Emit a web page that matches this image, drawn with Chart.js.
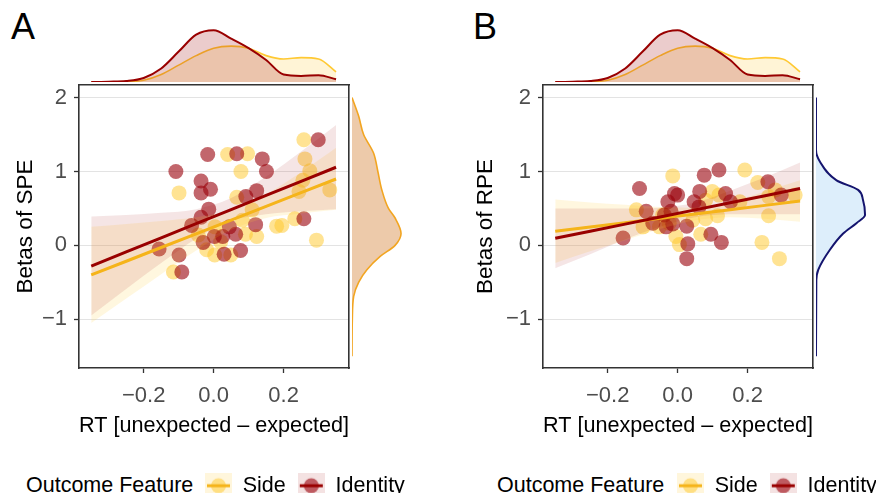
<!DOCTYPE html>
<html>
<head>
<meta charset="utf-8">
<script src="https://cdn.jsdelivr.net/npm/chart.js@4.4.0/dist/chart.umd.min.js"></script>
<style>
  body { margin: 0; background: #fff; width: 876px; height: 497px; overflow: hidden; position: relative;
         font-family: "Liberation Sans", Arial, sans-serif; }
  canvas { position: absolute; }
  .tag { position: absolute; font-size: 36px; color: #000; line-height: 36px; }
  .legtitle { position: absolute; font-size: 21.5px; color: #000; line-height: 22px; }
</style>
</head>
<body>
<div class="tag" style="left:11px;top:9px">A</div>
<div class="tag" style="left:473px;top:9px">B</div>
<div class="legtitle" style="left:26px;top:474px">Outcome Feature</div>
<div class="legtitle" style="left:497px;top:474px">Outcome Feature</div>

<canvas id="topA" width="270" height="82" style="left:79px;top:0px"></canvas>
<canvas id="mainA" width="360" height="439" style="left:0px;top:0px"></canvas>
<canvas id="rightA" width="58" height="439" style="left:352px;top:0px"></canvas>
<canvas id="legA" width="240" height="60" style="left:193px;top:463px"></canvas>

<canvas id="topB" width="270" height="82" style="left:543px;top:0px"></canvas>
<canvas id="mainB" width="360" height="439" style="left:464px;top:0px"></canvas>
<canvas id="rightB" width="58" height="439" style="left:816px;top:0px"></canvas>
<canvas id="legB" width="240" height="60" style="left:665px;top:463px"></canvas>

<script>
// axis ticks
const rtTicks = [-0.2, 0, 0.2];
const betaTicks = [-1, 0, 1, 2];

// panel A: RT vs SPE betas
const sideRtA = [0.258, 0.04, 0.097, 0.078, -0.099, 0.261, 0.275, 0.332, 0.244, 0.255, 0.066, 0.11, 0.082,
  0.232, 0.18, 0.195, 0.294, 0.123, 0.091, 0.004, -0.02, 0.003, 0.049, -0.044, -0.115, 0.02];
const sideSpe = [1.43, 1.23, 1.24, 1.0, 0.71, 1.17, 1.01, 0.75, 0.73, 0.88, 0.65, 0.48, 0.34,
  0.36, 0.26, 0.27, 0.07, 0.12, 0.15, 0.25, -0.06, -0.13, -0.13, 0.14, -0.36, 0.05];
const identityRtA = [0.299, -0.017, 0.066, 0.139, 0.151, -0.108, -0.036, -0.036, -0.009, 0.123, 0.092, -0.014, -0.036,
  -0.063, 0.12, 0.258, 0.045, 0.063, 0.026, -0.03, 0.002, 0.077, 0.03, -0.156, -0.099, -0.091];
const identitySpe = [1.43, 1.23, 1.24, 1.17, 1.0, 1.0, 0.87, 0.71, 0.76, 0.74, 0.66, 0.49, 0.38,
  0.27, 0.28, 0.36, 0.25, 0.15, 0.12, 0.04, 0.12, -0.07, -0.12, -0.05, -0.13, -0.36];

// panel B: RT vs RPE betas
const sideRtB = [-0.014, 0.192, 0.229, 0.279, 0.26, 0.336, 0.099, 0.118, 0.08, 0.178, 0.114, 0.08,
  0.043, 0.066, -0.005, 0.005, 0.241, 0.291, -0.118, -0.099, -0.052, -0.024, -0.043, 0.26];
const sideRpe = [0.94, 1.02, 0.85, 0.75, 0.4, 0.68, 0.73, 0.68, 0.61, 0.59, 0.4, 0.36,
  0.34, 0.15, 0.12, 0.01, 0.04, -0.18, 0.48, 0.25, 0.25, 0.3, 0.41, 0.66];
const identityRtB = [-0.109, -0.09, -0.156, -0.071, -0.033, -0.028, -0.009, 0.0, -0.038, -0.019, -0.014, 0.026,
  0.029, 0.026, 0.047, 0.063, 0.076, 0.118, 0.061, 0.137, 0.095, 0.125, 0.258, 0.296, 0.151];
const identityRpe = [0.77, 0.46, 0.1, 0.3, 0.25, 0.59, 0.7, 0.68, 0.41, 0.46, 0.29, 0.26,
  0.02, -0.18, 0.59, 0.73, 0.95, 1.02, 0.52, 0.7, 0.15, 0.04, 0.86, 0.68, 0.59];

// regression fits and 95% bands
const fitX = [-0.35, -0.25, -0.15, -0.05, 0.05, 0.15, 0.25, 0.35];
const sideSpeFit = [-0.40, -0.215, -0.029, 0.156, 0.342, 0.527, 0.713, 0.898];
const sideSpeHi = [0.25, 0.29, 0.33, 0.38, 0.47, 0.69, 0.99, 1.32];
const sideSpeLo = [-1.05, -0.72, -0.39, -0.07, 0.21, 0.37, 0.43, 0.48];
const identitySpeFit = [-0.28, -0.089, 0.102, 0.293, 0.484, 0.675, 0.866, 1.057];
const identitySpeHi = [0.39, 0.41, 0.44, 0.49, 0.64, 0.93, 1.27, 1.63];
const identitySpeLo = [-0.95, -0.59, -0.24, 0.09, 0.33, 0.42, 0.46, 0.49];
const sideRpeFit = [0.19, 0.249, 0.307, 0.366, 0.424, 0.483, 0.541, 0.60];
const sideRpeHi = [0.62, 0.58, 0.55, 0.52, 0.51, 0.59, 0.73, 0.88];
const sideRpeLo = [-0.24, -0.08, 0.07, 0.22, 0.34, 0.38, 0.36, 0.32];
const identityRpeFit = [0.095, 0.191, 0.287, 0.384, 0.48, 0.576, 0.672, 0.769];
const identityRpeHi = [0.50, 0.50, 0.50, 0.51, 0.58, 0.74, 0.92, 1.12];
const identityRpeLo = [-0.31, -0.12, 0.08, 0.25, 0.38, 0.42, 0.42, 0.42];

// marginal densities
const densRt = [-0.35, -0.3, -0.25, -0.2, -0.15, -0.1, -0.05, 0, 0.05, 0.1, 0.15, 0.2, 0.25, 0.3, 0.35];
const densRtSide = [0, 0, 0.02, 0.1, 0.44, 1.0, 1.56, 2.0, 2.12, 2.0, 1.56, 1.36, 1.44, 1.36, 0.6];
const densRtIdentity = [0, 0.02, 0.06, 0.24, 0.8, 1.8, 2.8, 3.06, 2.56, 2.0, 1.3, 0.44, 0.36, 0.4, 0.16];
const densSpeY = [2.0, 1.75, 1.5, 1.25, 1.0, 0.75, 0.5, 0.37, 0.16, 0.0, -0.15, -0.33, -0.5, -0.69, -1.0, -1.5];
const densSpe = [0, 0.4, 0.7, 1.3, 1.56, 1.8, 2.2, 2.6, 2.96, 2.6, 1.7, 0.9, 0.4, 0.1, 0.02, 0];
const densRpeY = [2.0, 1.29, 1.13, 0.88, 0.75, 0.61, 0.41, 0.3, 0.16, -0.06, -0.33, -0.47, -1.5];
const densRpe = [0, 0, 0.24, 1.24, 2.54, 2.84, 2.96, 2.44, 1.64, 0.84, 0.14, 0.02, 0];

const RED = '#990000', YEL = '#F5B41A';
const RED_PT = 'rgba(153,0,10,0.6)', YEL_PT = 'rgba(255,200,40,0.5)';
const X_MIN = -0.385, X_MAX = 0.387, Y_MIN = -1.66, Y_MAX = 2.17;
const FONT = '"Liberation Sans", Arial, sans-serif';

const pts = (xs, ys) => xs.map((x, i) => ({ x: x, y: ys[i] }));
const minus = s => s.replace('-', '\u2212');

function mainChart(id, title, titlePad, sx, sy, ix, iy, sFit, sLo, sHi, iFit, iLo, iHi) {
  const lineDs = (label, ys, color) => ({
    type: 'line', label, data: pts(fitX, ys), borderColor: color, borderWidth: 3,
    pointRadius: 0, fill: false, order: 0
  });
  const bandDs = (ys, color, fill) => ({
    type: 'line', data: pts(fitX, ys), borderWidth: 0, pointRadius: 0,
    backgroundColor: color, fill: fill, cubicInterpolationMode: 'monotone', order: 1
  });
  new Chart(document.getElementById(id), {
    type: 'scatter',
    data: {
      datasets: [
        lineDs('Identity', iFit, RED),
        lineDs('Side', sFit, YEL),
        bandDs(iHi, 'rgba(153,0,0,0.1)', '+1'),
        bandDs(iLo, 'transparent', false),
        bandDs(sHi, 'rgba(255,200,40,0.15)', '+1'),
        bandDs(sLo, 'transparent', false),
        { label: 'Identity', data: pts(ix, iy), backgroundColor: RED_PT, borderWidth: 0, pointRadius: 7.5, order: 2 },
        { label: 'Side', data: pts(sx, sy), backgroundColor: YEL_PT, borderWidth: 0, pointRadius: 7.5, order: 3 }
      ]
    },
    options: {
      responsive: false, animation: false, events: [],
      layout: { padding: { top: 85, right: 11, left: 0, bottom: 0 } },
      plugins: { legend: { display: false }, tooltip: { enabled: false } },
      scales: {
        x: {
          type: 'linear', position: 'bottom', min: X_MIN, max: X_MAX,
          afterBuildTicks: s => { s.ticks = rtTicks.map(v => ({ value: v })); },
          afterFit: s => { s.height = 71; },
          ticks: { font: { family: FONT, size: 22 }, color: '#4D4D4D', padding: 10,
                   callback: v => minus(v.toFixed(1)) },
          grid: { drawOnChartArea: false, tickLength: 5, tickColor: '#333', tickWidth: 1.3 },
          border: { color: '#333', width: 1.6 },
          title: { display: true, text: 'RT [unexpected \u2013 expected]', color: '#000',
                   font: { family: FONT, size: 22 }, padding: { top: 0, bottom: 0 } }
        },
        y: {
          type: 'linear', position: 'left', min: Y_MIN, max: Y_MAX,
          afterBuildTicks: s => { s.ticks = betaTicks.map(v => ({ value: v })); },
          afterFit: s => { s.width = 79; },
          ticks: { font: { family: FONT, size: 22 }, color: '#4D4D4D', padding: 7,
                   callback: v => minus(String(v)) },
          grid: { color: '#DCDCDC', lineWidth: 0.8, tickLength: 5, tickColor: '#333', tickWidth: 1.3 },
          border: { color: '#333', width: 1.6 },
          title: { display: true, text: title, color: '#000',
                   font: { family: FONT, size: 22.5 }, padding: { top: titlePad, bottom: 0 } }
        },
        x2: {
          type: 'linear', axis: 'x', position: 'top', min: X_MIN, max: X_MAX, display: true,
          afterFit: s => { s.height = 0; },
          ticks: { display: false }, grid: { display: false },
          border: { color: '#333', width: 1.6 }
        },
        y2: {
          type: 'linear', axis: 'y', position: 'right', min: Y_MIN, max: Y_MAX, display: true,
          afterFit: s => { s.width = 0; },
          ticks: { display: false }, grid: { display: false },
          border: { color: '#333', width: 1.6 }
        }
      }
    }
  });
}

function topDensity(id) {
  new Chart(document.getElementById(id), {
    type: 'line',
    data: {
      datasets: [
        { data: pts(densRt, densRtIdentity), borderColor: RED, borderWidth: 2,
          backgroundColor: 'rgba(153,0,0,0.2)', fill: 'origin', pointRadius: 0,
          cubicInterpolationMode: 'monotone', clip: false },
        { data: pts(densRt, densRtSide), borderColor: '#FFC933', borderWidth: 1.6,
          backgroundColor: 'rgba(255,200,50,0.2)', fill: 'origin', pointRadius: 0,
          cubicInterpolationMode: 'monotone', clip: false }
      ]
    },
    options: {
      responsive: false, animation: false, events: [],
      layout: { padding: 0 },
      plugins: { legend: { display: false }, tooltip: { enabled: false } },
      scales: {
        x: { type: 'linear', display: false, min: X_MIN, max: X_MAX },
        y: { type: 'linear', display: false, min: 0, max: 4.85 }
      }
    }
  });
}

function rightDensity(id, ys, ds, fillColor, lineColor, lineWidth) {
  new Chart(document.getElementById(id), {
    type: 'line',
    data: {
      datasets: [
        { data: pts(ds, ys), borderColor: lineColor, borderWidth: lineWidth,
          backgroundColor: fillColor, fill: 'origin', pointRadius: 0,
          cubicInterpolationMode: 'monotone', clip: false }
      ]
    },
    options: {
      indexAxis: 'y',
      responsive: false, animation: false, events: [],
      layout: { padding: { top: 85, bottom: 71, left: 0, right: 0 } },
      plugins: { legend: { display: false }, tooltip: { enabled: false } },
      scales: {
        x: { type: 'linear', display: false, min: 0, max: 3.5 },
        y: { type: 'linear', display: false, min: Y_MIN, max: Y_MAX }
      }
    }
  });
}

function keyGlyph(bg, pt, line) {
  const c = document.createElement('canvas');
  c.width = 27; c.height = 26;
  const g = c.getContext('2d');
  g.fillStyle = bg; g.fillRect(0, 0, 27, 26);
  g.fillStyle = pt; g.beginPath(); g.arc(13.5, 13, 7.5, 0, Math.PI * 2); g.fill();
  g.fillStyle = line; g.fillRect(2, 11.5, 23, 3);
  return c;
}

function legendChart(id) {
  const glyphs = [keyGlyph('#FFF6DC', YEL_PT, YEL), keyGlyph('#F4E2E2', RED_PT, RED)];
  new Chart(document.getElementById(id), {
    type: 'scatter',
    data: { datasets: [{ label: 'Side', data: [] }, { label: 'Identity', data: [] }] },
    options: {
      responsive: false, animation: false, events: [],
      scales: { x: { display: false }, y: { display: false } },
      plugins: {
        tooltip: { enabled: false },
        legend: {
          position: 'top', align: 'start',
          labels: {
            usePointStyle: true, pointStyleWidth: 27, boxHeight: 21.5, padding: 12,
            color: '#000', font: { family: FONT, size: 21.5 },
            generateLabels: chart => chart.data.datasets.map((d, i) => ({
              text: d.label, pointStyle: glyphs[i], datasetIndex: i,
              fillStyle: 'transparent', strokeStyle: 'transparent', lineWidth: 0, fontColor: '#000'
            }))
          }
        }
      }
    }
  });
}

mainChart('mainA', 'Betas of SPE', 12, sideRtA, sideSpe, identityRtA, identitySpe,
  sideSpeFit, sideSpeLo, sideSpeHi, identitySpeFit, identitySpeLo, identitySpeHi);
mainChart('mainB', 'Betas of RPE', 8, sideRtB, sideRpe, identityRtB, identityRpe,
  sideRpeFit, sideRpeLo, sideRpeHi, identityRpeFit, identityRpeLo, identityRpeHi);
topDensity('topA');
topDensity('topB');
rightDensity('rightA', densSpeY, densSpe, '#EDCAAA', '#F2A521', 1.6);
rightDensity('rightB', densRpeY, densRpe, '#DDEEFB', '#14146E', 2);
legendChart('legA');
legendChart('legB');
</script>
</body>
</html>
